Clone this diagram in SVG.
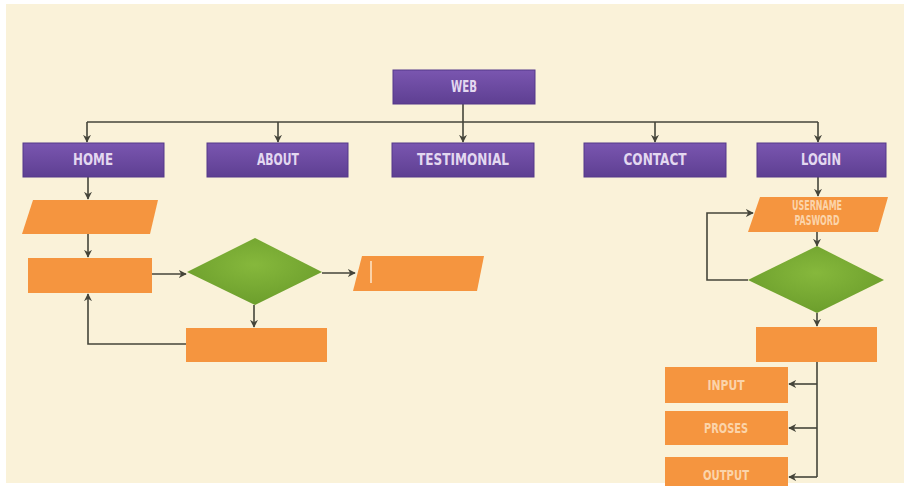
<svg xmlns="http://www.w3.org/2000/svg" width="904" height="486" viewBox="0 0 904 486">
<defs>
<linearGradient id="gPurple" x1="0" y1="0" x2="0" y2="1">
<stop offset="0" stop-color="#7a56b0"/>
<stop offset="1" stop-color="#5e3f92"/>
</linearGradient>
<radialGradient id="gGreen" cx="0.5" cy="0.4" r="0.6">
<stop offset="0" stop-color="#86b83c"/>
<stop offset="1" stop-color="#6c9e2c"/>
</radialGradient>
<marker id="arr" viewBox="0 0 10 10" refX="9" refY="5" markerWidth="8" markerHeight="8" markerUnits="userSpaceOnUse" orient="auto">
<path d="M0,0 L10,5 L0,10 L3,5 Z" fill="#45453a"/>
</marker>
<style>
.bg{fill:#faf2d9}
.pur{fill:url(#gPurple);stroke:#55388a;stroke-width:1}
.org{fill:#f5953f}
.grn{fill:url(#gGreen)}
.lbl{font-family:"DejaVu Sans",sans-serif;font-weight:bold;font-size:15px;fill:#e3d8f0;text-anchor:middle;dominant-baseline:central}
.olbl{font-family:"DejaVu Sans",sans-serif;font-weight:bold;font-size:14px;fill:#fbd4aa;text-anchor:middle;dominant-baseline:central}
.ln{fill:none;stroke:#45453a;stroke-width:1.6}
.ar{marker-end:url(#arr)}
</style>
</defs>
<rect width="904" height="486" fill="#ffffff"/>
<rect class="bg" x="6" y="4" width="898" height="479"/>

<g id="connectors">
<line class="ln" x1="463" y1="104" x2="463" y2="122"/>
<line class="ln" x1="87" y1="122" x2="818" y2="122"/>
<line class="ln ar" x1="87" y1="122" x2="87" y2="142"/>
<line class="ln ar" x1="278" y1="122" x2="278" y2="142"/>
<line class="ln ar" x1="463" y1="122" x2="463" y2="142"/>
<line class="ln ar" x1="655" y1="122" x2="655" y2="142"/>
<line class="ln ar" x1="818" y1="122" x2="818" y2="142"/>
<line class="ln ar" x1="88" y1="177" x2="88" y2="199"/>
<line class="ln ar" x1="88" y1="234" x2="88" y2="257"/>
<line class="ln ar" x1="152" y1="274" x2="186" y2="274"/>
<line class="ln ar" x1="322" y1="273" x2="355" y2="273"/>
<line class="ln ar" x1="254" y1="305" x2="254" y2="327"/>
<polyline class="ln ar" points="186,344 88,344 88,294"/>
<line class="ln ar" x1="818" y1="177" x2="818" y2="196"/>
<line class="ln ar" x1="817" y1="232" x2="817" y2="246"/>
<polyline class="ln ar" points="748,280 707,280 707,213 753,213"/>
<line class="ln ar" x1="817" y1="313" x2="817" y2="326"/>
<polyline class="ln" points="817,362 817,477"/>
<line class="ln ar" x1="817" y1="384" x2="789" y2="384"/>
<line class="ln ar" x1="817" y1="428" x2="789" y2="428"/>
<line class="ln ar" x1="817" y1="477" x2="789" y2="477"/>
</g>

<g id="web"><rect class="pur" x="393" y="70" width="142" height="34"/><text class="lbl" x="464" y="87" textLength="26" lengthAdjust="spacingAndGlyphs">WEB</text></g>
<g id="home"><rect class="pur" x="23" y="143" width="141" height="34"/><text class="lbl" x="93" y="160" textLength="40" lengthAdjust="spacingAndGlyphs">HOME</text></g>
<g id="about"><rect class="pur" x="207" y="143" width="141" height="34"/><text class="lbl" x="278" y="160" textLength="42" lengthAdjust="spacingAndGlyphs">ABOUT</text></g>
<g id="testimonial"><rect class="pur" x="392" y="143" width="142" height="34"/><text class="lbl" x="463" y="160" textLength="92" lengthAdjust="spacingAndGlyphs">TESTIMONIAL</text></g>
<g id="contact"><rect class="pur" x="584" y="143" width="142" height="34"/><text class="lbl" x="655" y="160" textLength="63" lengthAdjust="spacingAndGlyphs">CONTACT</text></g>
<g id="login"><rect class="pur" x="757" y="143" width="129" height="34"/><text class="lbl" x="821" y="160" textLength="40" lengthAdjust="spacingAndGlyphs">LOGIN</text></g>

<g id="home-input"><polygon class="org" points="33,200 158,200 150,234 22,234"/></g>
<g id="home-process"><rect class="org" x="28" y="258" width="124" height="35"/></g>
<g id="home-decision"><polygon class="grn" points="255,238 322,272 255,305 187,272"/></g>
<g id="home-output"><polygon class="org" points="362,256 484,256 477,291 353,291"/><line x1="371" y1="261" x2="371" y2="283" stroke="#fbd2a8" stroke-width="2"/></g>
<g id="home-process2"><rect class="org" x="186" y="328" width="141" height="34"/></g>

<g id="username"><polygon class="org" points="760,197 888,197 878,232 748,232"/><text class="olbl" x="817" y="205" font-size="12" textLength="50" lengthAdjust="spacingAndGlyphs">USERNAME</text><text class="olbl" x="817" y="220" font-size="12" textLength="45" lengthAdjust="spacingAndGlyphs">PASWORD</text></g>
<g id="login-decision"><polygon class="grn" points="817,246 884,280 817,313 748,280"/></g>
<g id="login-process"><rect class="org" x="756" y="327" width="121" height="35"/></g>
<g id="input"><rect class="org" x="665" y="367" width="123" height="36"/><text class="olbl" x="726" y="385" textLength="37" lengthAdjust="spacingAndGlyphs">INPUT</text></g>
<g id="proses"><rect class="org" x="665" y="411" width="123" height="34"/><text class="olbl" x="726" y="428" textLength="44" lengthAdjust="spacingAndGlyphs">PROSES</text></g>
<g id="output"><rect class="org" x="665" y="457" width="123" height="29"/><text class="olbl" x="726" y="475" textLength="46" lengthAdjust="spacingAndGlyphs">OUTPUT</text></g>
</svg>
